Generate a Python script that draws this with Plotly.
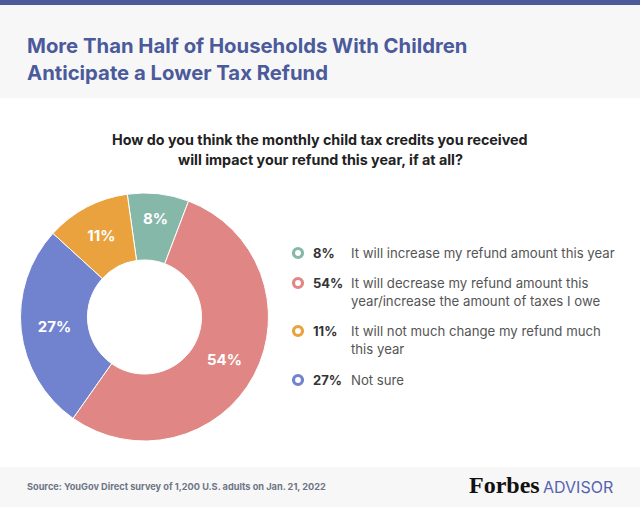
import plotly.graph_objects as go

# ---- data ----
categories = [
    "It will increase my refund amount this year",
    "It will decrease my refund amount this year/increase the amount of taxes I owe",
    "It will not much change my refund much this year",
    "Not sure",
]
legend_lines = [
    ["It will increase my refund amount this year"],
    ["It will decrease my refund amount this", "year/increase the amount of taxes I owe"],
    ["It will not much change my refund much", "this year"],
    ["Not sure"],
]
shares = [8, 54, 11, 27]
colors = ["#86b8aa", "#e08785", "#e9a23d", "#7182cf"]

# order of slices around the ring (clockwise from top)
pie_order = [0, 1, 3, 2]

W, H = 640, 507
fig = go.Figure()

# background bands
fig.add_shape(type="rect", xref="paper", yref="paper", x0=0, x1=1, y0=1 - 98 / H, y1=1,
              fillcolor="#f7f7f7", line_width=0, layer="below")
fig.add_shape(type="rect", xref="paper", yref="paper", x0=0, x1=1, y0=1 - 5 / H, y1=1,
              fillcolor="#4b5a9b", line_width=0, layer="below")
fig.add_shape(type="rect", xref="paper", yref="paper", x0=0, x1=1, y0=0, y1=1 - 467 / H,
              fillcolor="#f7f7f7", line_width=0, layer="below")

fig.add_trace(go.Pie(
    values=[shares[i] for i in pie_order],
    labels=[categories[i] for i in pie_order],
    text=[f"{shares[i]}%" for i in pie_order],
    marker=dict(colors=[colors[i] for i in pie_order], line=dict(color="white", width=1)),
    sort=False, direction="clockwise", rotation=-8,
    hole=0.46,
    textinfo="text", textposition="inside", insidetextorientation="horizontal",
    textfont=dict(family="Inter", size=15, color="white", weight="bold"),
    domain=dict(x=[20 / W, 269 / W], y=[1 - 441 / H, 1 - 193 / H]),
    showlegend=False, hoverinfo="label+text",
))

# custom legend
row_y = [253, 283, 331, 380]
line_gap = 17.5
fig.add_trace(go.Scatter(
    x=[298] * 4, y=row_y, mode="markers",
    marker=dict(symbol="circle-open", size=9, color=colors, line=dict(width=3.2, color=colors)),
    showlegend=False, hoverinfo="skip", xaxis="x", yaxis="y",
))
annotations = []
for i in range(4):
    annotations.append(dict(x=311, y=row_y[i], xref="x", yref="y", text=f"<b>{shares[i]}%</b>",
                            showarrow=False, xanchor="left", yanchor="middle",
                            font=dict(family="Inter", size=13, color="#333333")))
    for j, ln in enumerate(legend_lines[i]):
        annotations.append(dict(x=349, y=row_y[i] + j * line_gap, xref="x", yref="y", text=ln,
                                showarrow=False, xanchor="left", yanchor="middle",
                                font=dict(family="Inter", size=13.2, color="#555555")))

# titles
annotations += [
    dict(x=25, y=45, xref="x", yref="y", text="<b>More Than Half of Households With Children</b>",
         showarrow=False, xanchor="left", yanchor="middle",
         font=dict(family="Inter", size=20.3, color="#4b5a9b")),
    dict(x=25, y=72, xref="x", yref="y", text="<b>Anticipate a Lower Tax Refund</b>",
         showarrow=False, xanchor="left", yanchor="middle",
         font=dict(family="Inter", size=20.3, color="#4b5a9b")),
    dict(x=320, y=139, xref="x", yref="y",
         text="<b>How do you think the monthly child tax credits you received</b>",
         showarrow=False, xanchor="center", yanchor="middle",
         font=dict(family="Inter", size=14.3, color="#222222")),
    dict(x=320, y=159, xref="x", yref="y", text="<b>will impact your refund this year, if at all?</b>",
         showarrow=False, xanchor="center", yanchor="middle",
         font=dict(family="Inter", size=14.3, color="#222222")),
    dict(x=25, y=486, xref="x", yref="y",
         text="<b>Source: YouGov Direct survey of 1,200 U.S. adults on Jan. 21, 2022</b>",
         showarrow=False, xanchor="left", yanchor="middle",
         font=dict(family="Inter", size=9.2, color="#6e7585")),
    dict(x=467, y=485, xref="x", yref="y", text="<b>Forbes</b>",
         showarrow=False, xanchor="left", yanchor="middle",
         font=dict(family="Liberation Serif", size=24, color="#111111")),
    dict(x=615, y=487, xref="x", yref="y", text="ADVISOR",
         showarrow=False, xanchor="right", yanchor="middle",
         font=dict(family="Inter", size=16, color="#5563b0")),
]

fig.update_layout(
    width=W, height=H, margin=dict(l=0, r=0, t=0, b=0),
    paper_bgcolor="white", plot_bgcolor="rgba(0,0,0,0)",
    xaxis=dict(range=[0, W], visible=False, fixedrange=True),
    yaxis=dict(range=[H, 0], visible=False, fixedrange=True),
    annotations=annotations,
    showlegend=False,
)
fig.write_html("out.html", config={"displayModeBar": False},
               post_script="document.body.style.margin='0';document.body.style.overflow='hidden';")
